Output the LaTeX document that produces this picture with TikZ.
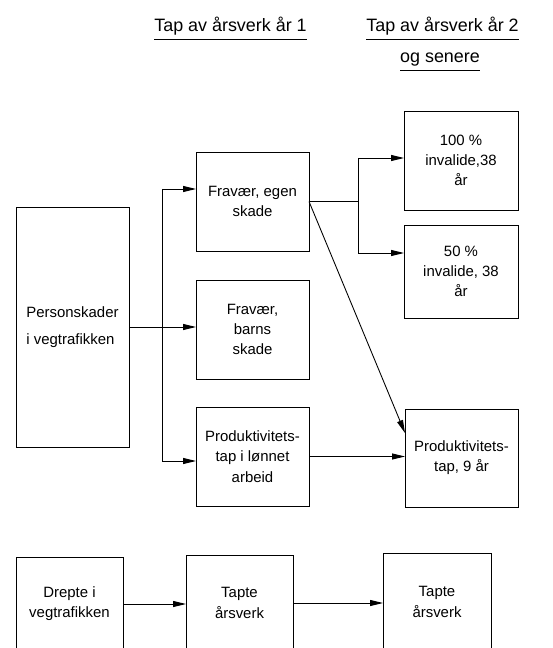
\documentclass[tikz,border=0pt]{standalone}
\usepackage{fontspec}
\setmainfont{Liberation Sans}
\usetikzlibrary{arrows.meta}

\begin{document}
\begin{tikzpicture}
	[x=0.02cm, y=-0.02cm, line width=0.5pt,
	every node/.style={inner sep=0pt, outer sep=0pt, align=center, font=\fontsize{8.5}{11.5}\selectfont},
	box/.style 2 args={draw, minimum width=#1*0.02cm, minimum height=#2*0.02cm},
	head/.style={font=\fontsize{10.2}{12}\selectfont, anchor=base},
	arr/.style={-{Triangle[length=0.26cm, width=0.12cm]}}]
	\useasboundingbox (0,0) rectangle (553,648);
	\clip (0,0) rectangle (553,648);
	
	% overskrifter
	\node[head] (h1) at (230.5,32) {Tap av årsverk år 1};
	\node[head] (h2) at (442.5,32) {Tap av årsverk år 2};
	\node[head] (h3) at (440,63) {og senere};
	\foreach \h in {h1,h2,h3}
	\draw ([yshift=-0.14cm]\h.base west) -- ([yshift=-0.14cm]\h.base east);
	
	\node[box={113}{240}, align=left] (ps) at (72.5,327) {Personskader\\[4pt]i vegtrafikken};
	\node[box={113}{99}] (egen) at (252.5,201.5) {Fravær, egen\\skade};
	\node[box={113}{99}] (barns) at (252.5,329.5) {Fravær,\\barns\\skade};
	\node[box={113}{99}] (prod) at (252.5,456.5) {Produktivitets-\\tap i lønnet\\arbeid};
	\node[box={114}{99}] (inv100) at (461,160.5) {100 \%\\invalide,38\\år};
	\node[box={114}{93}] (inv50) at (461,271.5) {50 \%\\invalide, 38\\år};
	\node[box={113}{98}] (prod9) at (461.5,458) {Produktivitets-\\tap, 9 år};
	\node[box={107}{94}] (drepte) at (69.5,604) {Drepte i\\vegtrafikken};
	\node[box={107}{96}] (tapte1) at (239.5,603) {Tapte\\årsverk};
	\node[box={108}{98}] (tapte2) at (437,602) {Tapte\\årsverk};
	
	\coordinate (j1) at (162,189);
	\coordinate (j2) at (162,461);
	\coordinate (j3) at (358,158);
	\coordinate (j4) at (358,253);
	\coordinate (j5) at (358,201.5);
	
	\draw (j1) -- (j2);
	\draw (j3) -- (j4);
	\draw (egen.east) -- (j5);
	\foreach \a/\b in {j1/egen,j2/prod,j3/inv100,j4/inv50,ps.east/barns,prod.east/prod9,drepte.east/tapte1,tapte1.east/tapte2}
	\draw[arr] (\a) -- (\b.west |- \a);
	\draw[arr] (egen.east) -- ([yshift=0.5cm]prod9.west);
\end{tikzpicture}
\end{document}
